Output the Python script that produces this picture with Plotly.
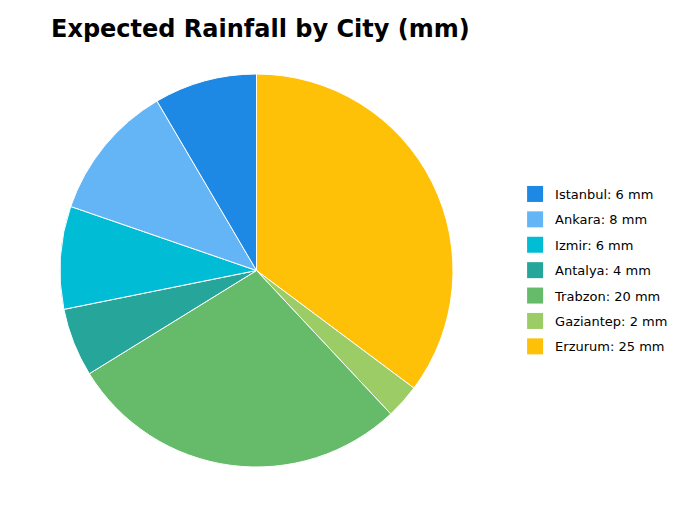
import plotly.graph_objects as go

cities = ["Istanbul", "Ankara", "Izmir", "Antalya", "Trabzon", "Gaziantep", "Erzurum"]
rainfall = [6, 8, 6, 4, 20, 2, 25]
colors = ["#1E88E5", "#64B5F6", "#00BCD4", "#26A69A", "#66BB6A", "#9CCC65", "#FFC107"]

labels = [f"{c}: {v} mm" for c, v in zip(cities, rainfall)]

fig = go.Figure()
# plotly draws clockwise from 12 o'clock, so feed the slices reversed
# to get Istanbul first going counterclockwise like the original
fig.add_trace(
    go.Pie(
        labels=labels[::-1],
        values=rainfall[::-1],
        sort=False,
        direction="clockwise",
        rotation=0,
        textinfo="none",
        hoverinfo="label+percent",
        showlegend=False,
        marker=dict(colors=colors[::-1], line=dict(color="white", width=1)),
        domain=dict(x=[0.0, 1.0], y=[0.0, 1.0]),
    )
)

# legend entries with bigger squares and wider spacing
for lab, col in zip(labels, colors):
    fig.add_trace(
        go.Scatter(
            x=[None],
            y=[None],
            mode="markers",
            name=lab,
            legendgroup=lab,
            marker=dict(symbol="square", size=16, color=col, line=dict(width=0)),
            hoverinfo="skip",
        )
    )

fig.update_layout(
    width=680,
    height=510,
    font=dict(family="DejaVu Sans", size=13, color="#000000"),
    title=dict(
        text="<b>Expected Rainfall by City (mm)</b>",
        x=43 / 680,
        xanchor="left",
        y=1 - 12 / 510,
        yanchor="top",
        font=dict(size=24, color="#000000"),
    ),
    legend=dict(
        x=1.158,
        xanchor="left",
        y=0.5,
        yanchor="middle",
        font=dict(size=13),
        tracegroupgap=5.5,
    ),
    xaxis=dict(visible=False),
    yaxis=dict(visible=False),
    plot_bgcolor="white",
    paper_bgcolor="white",
    margin=dict(l=52, r=235, t=66, b=51),
)
fig.write_html("out.html")
